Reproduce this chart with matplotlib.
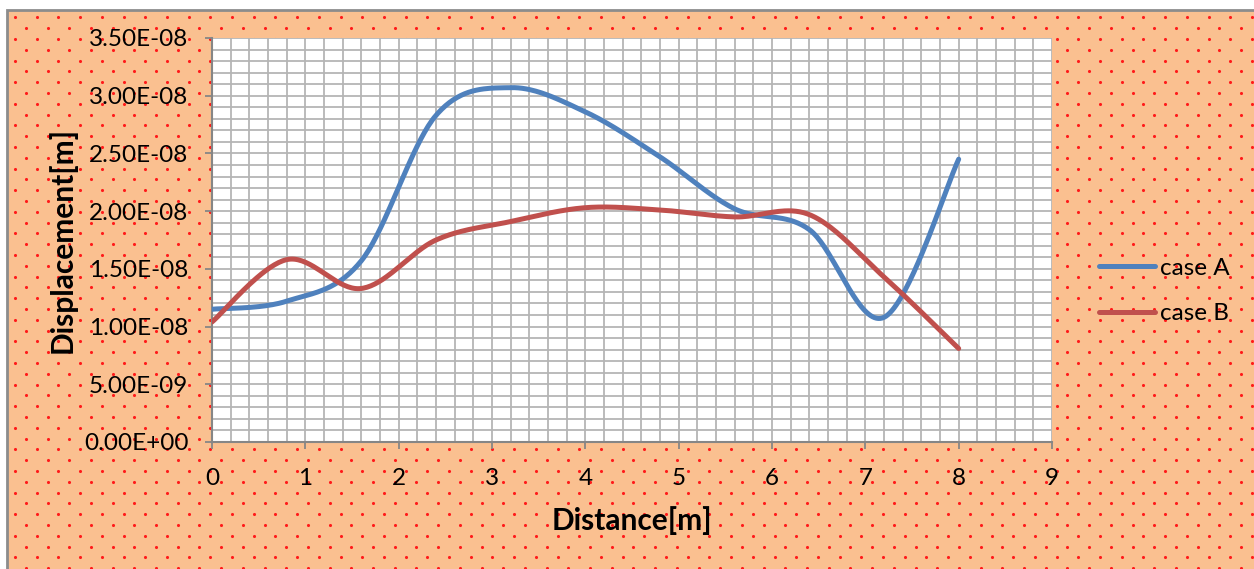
import matplotlib
matplotlib.use("Agg")
import matplotlib.pyplot as plt
import numpy as np
from matplotlib.patches import Rectangle
from matplotlib.ticker import FuncFormatter, MultipleLocator

plt.rcParams["font.family"] = ["Lato", "DejaVu Sans"]

distance = [0.0, 0.8, 1.6, 2.4, 3.2, 4.0, 4.8, 5.6, 6.4, 7.2, 8.0]
case_a = [1.15e-8, 1.22e-8, 1.57e-8, 2.83e-8, 3.07e-8, 2.86e-8, 2.47e-8, 2.02e-8, 1.84e-8, 1.08e-8, 2.45e-8]
case_b = [1.04e-8, 1.58e-8, 1.33e-8, 1.75e-8, 1.91e-8, 2.03e-8, 2.01e-8, 1.95e-8, 1.97e-8, 1.43e-8, 0.81e-8]
series_names = ["case A", "case B"]
series_colors = ["#4F81BD", "#C0504D"]


def excel_smooth(x, y, n=40):
    # Excel style smoothed line: cubic Bezier segments, tangent (p2 - p0) / 6
    pts = np.column_stack([x, y]).astype(float)
    m = len(pts)
    t = np.linspace(0, 1, n)[:, None]
    out = []
    for i in range(m - 1):
        p0 = pts[max(i - 1, 0)]
        p1 = pts[i]
        p2 = pts[i + 1]
        p3 = pts[min(i + 2, m - 1)]
        c1 = p1 + (p2 - p0) / 6
        c2 = p2 - (p3 - p1) / 6
        seg = (1 - t) ** 3 * p1 + 3 * (1 - t) ** 2 * t * c1 + 3 * (1 - t) * t ** 2 * c2 + t ** 3 * p2
        out.append(seg if i == 0 else seg[1:])
    out = np.vstack(out)
    return out[:, 0], out[:, 1]


W, H = 1254, 569
fig = plt.figure(figsize=(W / 100, H / 100), dpi=100)

# background: peach chart area with red dot pattern
bg = fig.add_axes([0, 0, 1, 1], zorder=0)
bg.set_xlim(0, W)
bg.set_ylim(H, 0)
bg.axis("off")
bg.add_patch(Rectangle((7, 10), W, H, facecolor="#FAC090", edgecolor="#8C8C8C", lw=2))
dot_x, dot_y = [], []
for r, yy in enumerate(np.arange(17.3, H, 10.8)):
    off = 0 if r % 2 == 0 else 10.85
    for xx in np.arange(15 + off, W, 21.7):
        dot_x.append(xx)
        dot_y.append(yy)
bg.scatter(dot_x, dot_y, s=5, color="#FF1A1A", linewidths=0)

ax = fig.add_axes([212 / W, 1 - 442 / H, 840 / W, 404 / H], zorder=1)
ax.set_facecolor("white")

for vals, name, col in zip([case_a, case_b], series_names, series_colors):
    sx, sy = excel_smooth(distance, vals)
    ax.plot(sx, sy, color=col, lw=3.6, label=name, solid_capstyle="round", zorder=3)

ax.set_xlim(0, 9)
ax.set_ylim(0, 3.5e-8)
ax.xaxis.set_major_locator(MultipleLocator(1))
ax.xaxis.set_minor_locator(MultipleLocator(0.2))
ax.yaxis.set_major_locator(MultipleLocator(0.5e-8))
ax.yaxis.set_minor_locator(MultipleLocator(0.1e-8))
ax.yaxis.set_major_formatter(FuncFormatter(lambda v, p: f"{v:.2E}"))
ax.grid(True, which="both", color="#B5B5B5", lw=1.3, zorder=1)
ax.set_axisbelow(True)

for s in ["top", "right"]:
    ax.spines[s].set_visible(False)
for s in ["left", "bottom"]:
    ax.spines[s].set_color("#868686")
    ax.spines[s].set_linewidth(1.5)

ax.tick_params(which="major", direction="out", length=5, width=1.3, color="#868686",
               labelsize=17.5, labelcolor="black")
ax.tick_params(which="minor", length=0)
ax.tick_params(axis="x", pad=14)
ax.tick_params(axis="y", pad=12)

ax.set_xlabel("Distance[m]", fontsize=21.5, fontweight="bold", va="center")
ax.set_ylabel("Displacement[m]", fontsize=21.5, fontweight="bold", va="center")
ax.xaxis.set_label_coords(0.5, -(521 - 442) / 404)
ax.yaxis.set_label_coords((62 - 212) / 840, 0.5)

fig.legend(loc="center left", bbox_to_anchor=(1099 / W, 1 - 291 / H), frameon=False,
           fontsize=17.5, handlelength=2.3, handletextpad=0.2, labelspacing=1.0,
           borderpad=0, borderaxespad=0)

fig.savefig("out.png", dpi=100)
